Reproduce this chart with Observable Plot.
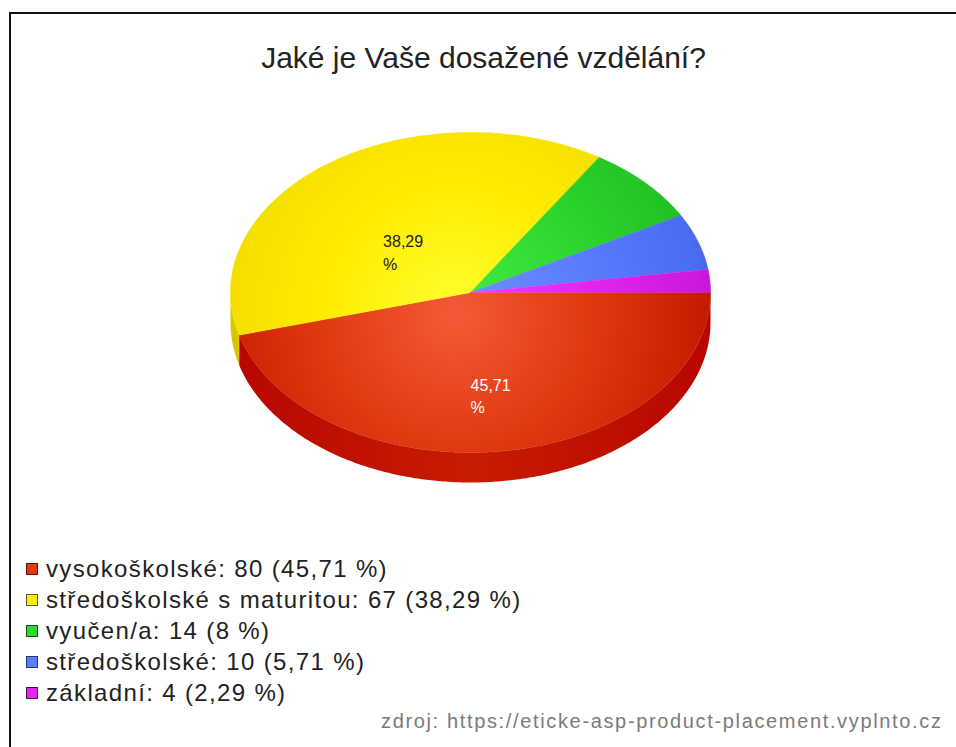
<!DOCTYPE html>
<html><head><meta charset="utf-8">
<script src="https://cdn.jsdelivr.net/npm/d3@7"></script>
<script src="https://cdn.jsdelivr.net/npm/@observablehq/plot@0.6"></script>
<style>
html,body{margin:0;padding:0;background:#fff;overflow:hidden;font-family:"Liberation Sans",Arial,sans-serif;}
#wrap{position:relative;width:956px;height:747px;overflow:hidden;background:#fff;}
#frame{position:absolute;left:9px;top:12px;width:1200px;height:1000px;border-left:2px solid #111;border-top:2px solid #111;}
#title{position:absolute;left:0;width:967px;top:41px;text-align:center;font-size:30px;color:#222;white-space:nowrap;}
#chart{position:absolute;left:0;top:100px;}
#legend{position:absolute;left:26px;top:553px;}
.row{display:flex;align-items:center;height:31px;font-size:24px;letter-spacing:1.35px;color:#222;white-space:nowrap;}
.sw{width:10px;height:10px;border:1.5px solid #333;margin-right:8px;flex:none;}
#source{position:absolute;left:381px;top:710px;font-size:20px;color:#7a7a7a;letter-spacing:1.65px;white-space:nowrap;}
</style></head>
<body>
<div id="wrap">
  <div id="frame"></div>
  <div id="title"></div>
  <div id="chart"></div>
  <div id="legend"></div>
  <div id="source"></div>
</div>
<script>
// ---- data ----
const titleText = "Jaké je Vaše dosažené vzdělání?";
const categories = ["vysokoškolské", "středoškolské s maturitou", "vyučen/a", "středoškolské", "základní"];
const counts = [80, 67, 14, 10, 4];
const shares = ["45,71", "38,29", "8", "5,71", "2,29"];
const sourceText = "zdroj: https://eticke-asp-product-placement.vyplnto.cz";

// ---- palette ----
const baseColors  = ["#e03a12", "#ffec00", "#2ed82e", "#5b7cff", "#e326ee"];
const lightColors = ["#f45a38", "#ffff30", "#44ee44", "#7090ff", "#f040ff"];
const darkColors  = ["#c81c00", "#f2dc00", "#22c022", "#4a6cf0", "#cc18dd"];
const sideColors  = ["#b80600", "#d8c600", "#1aa81a", "#3a58d0", "#b010c0"];
const swatchBorders = ["#5a1000", "#555", "#1a4a1a", "#223377", "#4a1055"];
const labelColors = ["#ffffff", "#222222", "#222222", "#222222", "#222222"];

// ---- geometry in unit ellipse space ----
const depth = 0.1875;
const total = d3.sum(counts);
let acc = 0;
const slices = counts.map((v, i) => {
  const a0 = acc / total * 2 * Math.PI; acc += v;
  const a1 = acc / total * 2 * Math.PI;
  return {i, a0, a1, v};
});
const topPts = [], sidePts = [];
for (const s of slices) {
  const n = Math.max(2, Math.ceil((s.a1 - s.a0) / 0.01));
  topPts.push({k: s.i, x: 0, y: 0});
  for (let j = 0; j <= n; j++) {
    const a = s.a0 + (s.a1 - s.a0) * j / n;
    topPts.push({k: s.i, x: Math.cos(a), y: Math.sin(a)});
  }
  const b0 = Math.max(s.a0, 0), b1 = Math.min(s.a1, Math.PI);
  if (b1 > b0) {
    const m = Math.max(2, Math.ceil((b1 - b0) / 0.01));
    const arc = [];
    for (let j = 0; j <= m; j++) { const a = b0 + (b1 - b0) * j / m; arc.push([Math.cos(a), Math.sin(a)]); }
    for (const [x, y] of arc) sidePts.push({k: s.i, x, y});
    for (const [x, y] of arc.slice().reverse()) sidePts.push({k: s.i, x, y: y + depth});
  }
}
const labels = slices.filter(s => s.v / total > 0.1).map(s => {
  const m = (s.a0 + s.a1) / 2;
  return {x: 0.5 * Math.cos(m), y: 0.5 * Math.sin(m), text: shares[s.i] + "\n%", c: labelColors[s.i]};
});

const plot = Plot.plot({
  width: 956, height: 400, margin: 0,
  x: {domain: [-1, 1], range: [230, 710], axis: null},
  y: {domain: [-1, 1], range: [32, 352], axis: null},
  color: {type: "identity"},
  style: {background: "transparent", fontFamily: "Liberation Sans, Arial, sans-serif"},
  marks: [
    Plot.line(sidePts, {x: "x", y: "y", z: "k", fill: d => `url(#side${d.k})`, stroke: "none"}),
    Plot.line(topPts, {x: "x", y: "y", z: "k", fill: d => `url(#top${d.k})`, stroke: d => `url(#top${d.k})`, strokeWidth: 0.6}),
    Plot.text(labels, {x: "x", y: "y", text: "text", fill: "c", textAnchor: "start", dx: -16, dy: 23, fontSize: 16, lineHeight: 1.4})
  ]
});

// gradients
const svg = d3.select(plot);
const defs = svg.insert("defs", ":first-child");
baseColors.forEach((c, i) => {
  const g = defs.append("radialGradient").attr("id", `top${i}`).attr("gradientUnits", "userSpaceOnUse")
    .attr("cx", 455).attr("cy", 215).attr("r", 290);
  g.append("stop").attr("offset", 0).attr("stop-color", lightColors[i]);
  g.append("stop").attr("offset", 0.45).attr("stop-color", c);
  g.append("stop").attr("offset", 0.85).attr("stop-color", darkColors[i]);
  g.append("stop").attr("offset", 1).attr("stop-color", sideColors[i]);
  const sg = defs.append("linearGradient").attr("id", `side${i}`).attr("gradientUnits", "userSpaceOnUse")
    .attr("x1", 230).attr("y1", 0).attr("x2", 710).attr("y2", 0);
  sg.append("stop").attr("offset", 0).attr("stop-color", sideColors[i]);
  sg.append("stop").attr("offset", 0.5).attr("stop-color", darkColors[i]);
  sg.append("stop").attr("offset", 1).attr("stop-color", sideColors[i]);
});
document.getElementById("chart").appendChild(plot);

document.getElementById("title").textContent = titleText;
document.getElementById("source").textContent = sourceText;
const legend = document.getElementById("legend");
categories.forEach((c, i) => {
  const row = document.createElement("div"); row.className = "row";
  const sw = document.createElement("div"); sw.className = "sw";
  sw.style.background = baseColors[i]; sw.style.borderColor = swatchBorders[i];
  const t = document.createElement("span");
  t.textContent = `${c}: ${counts[i]} (${shares[i]} %)`;
  row.appendChild(sw); row.appendChild(t); legend.appendChild(row);
});
</script>
</body></html>
